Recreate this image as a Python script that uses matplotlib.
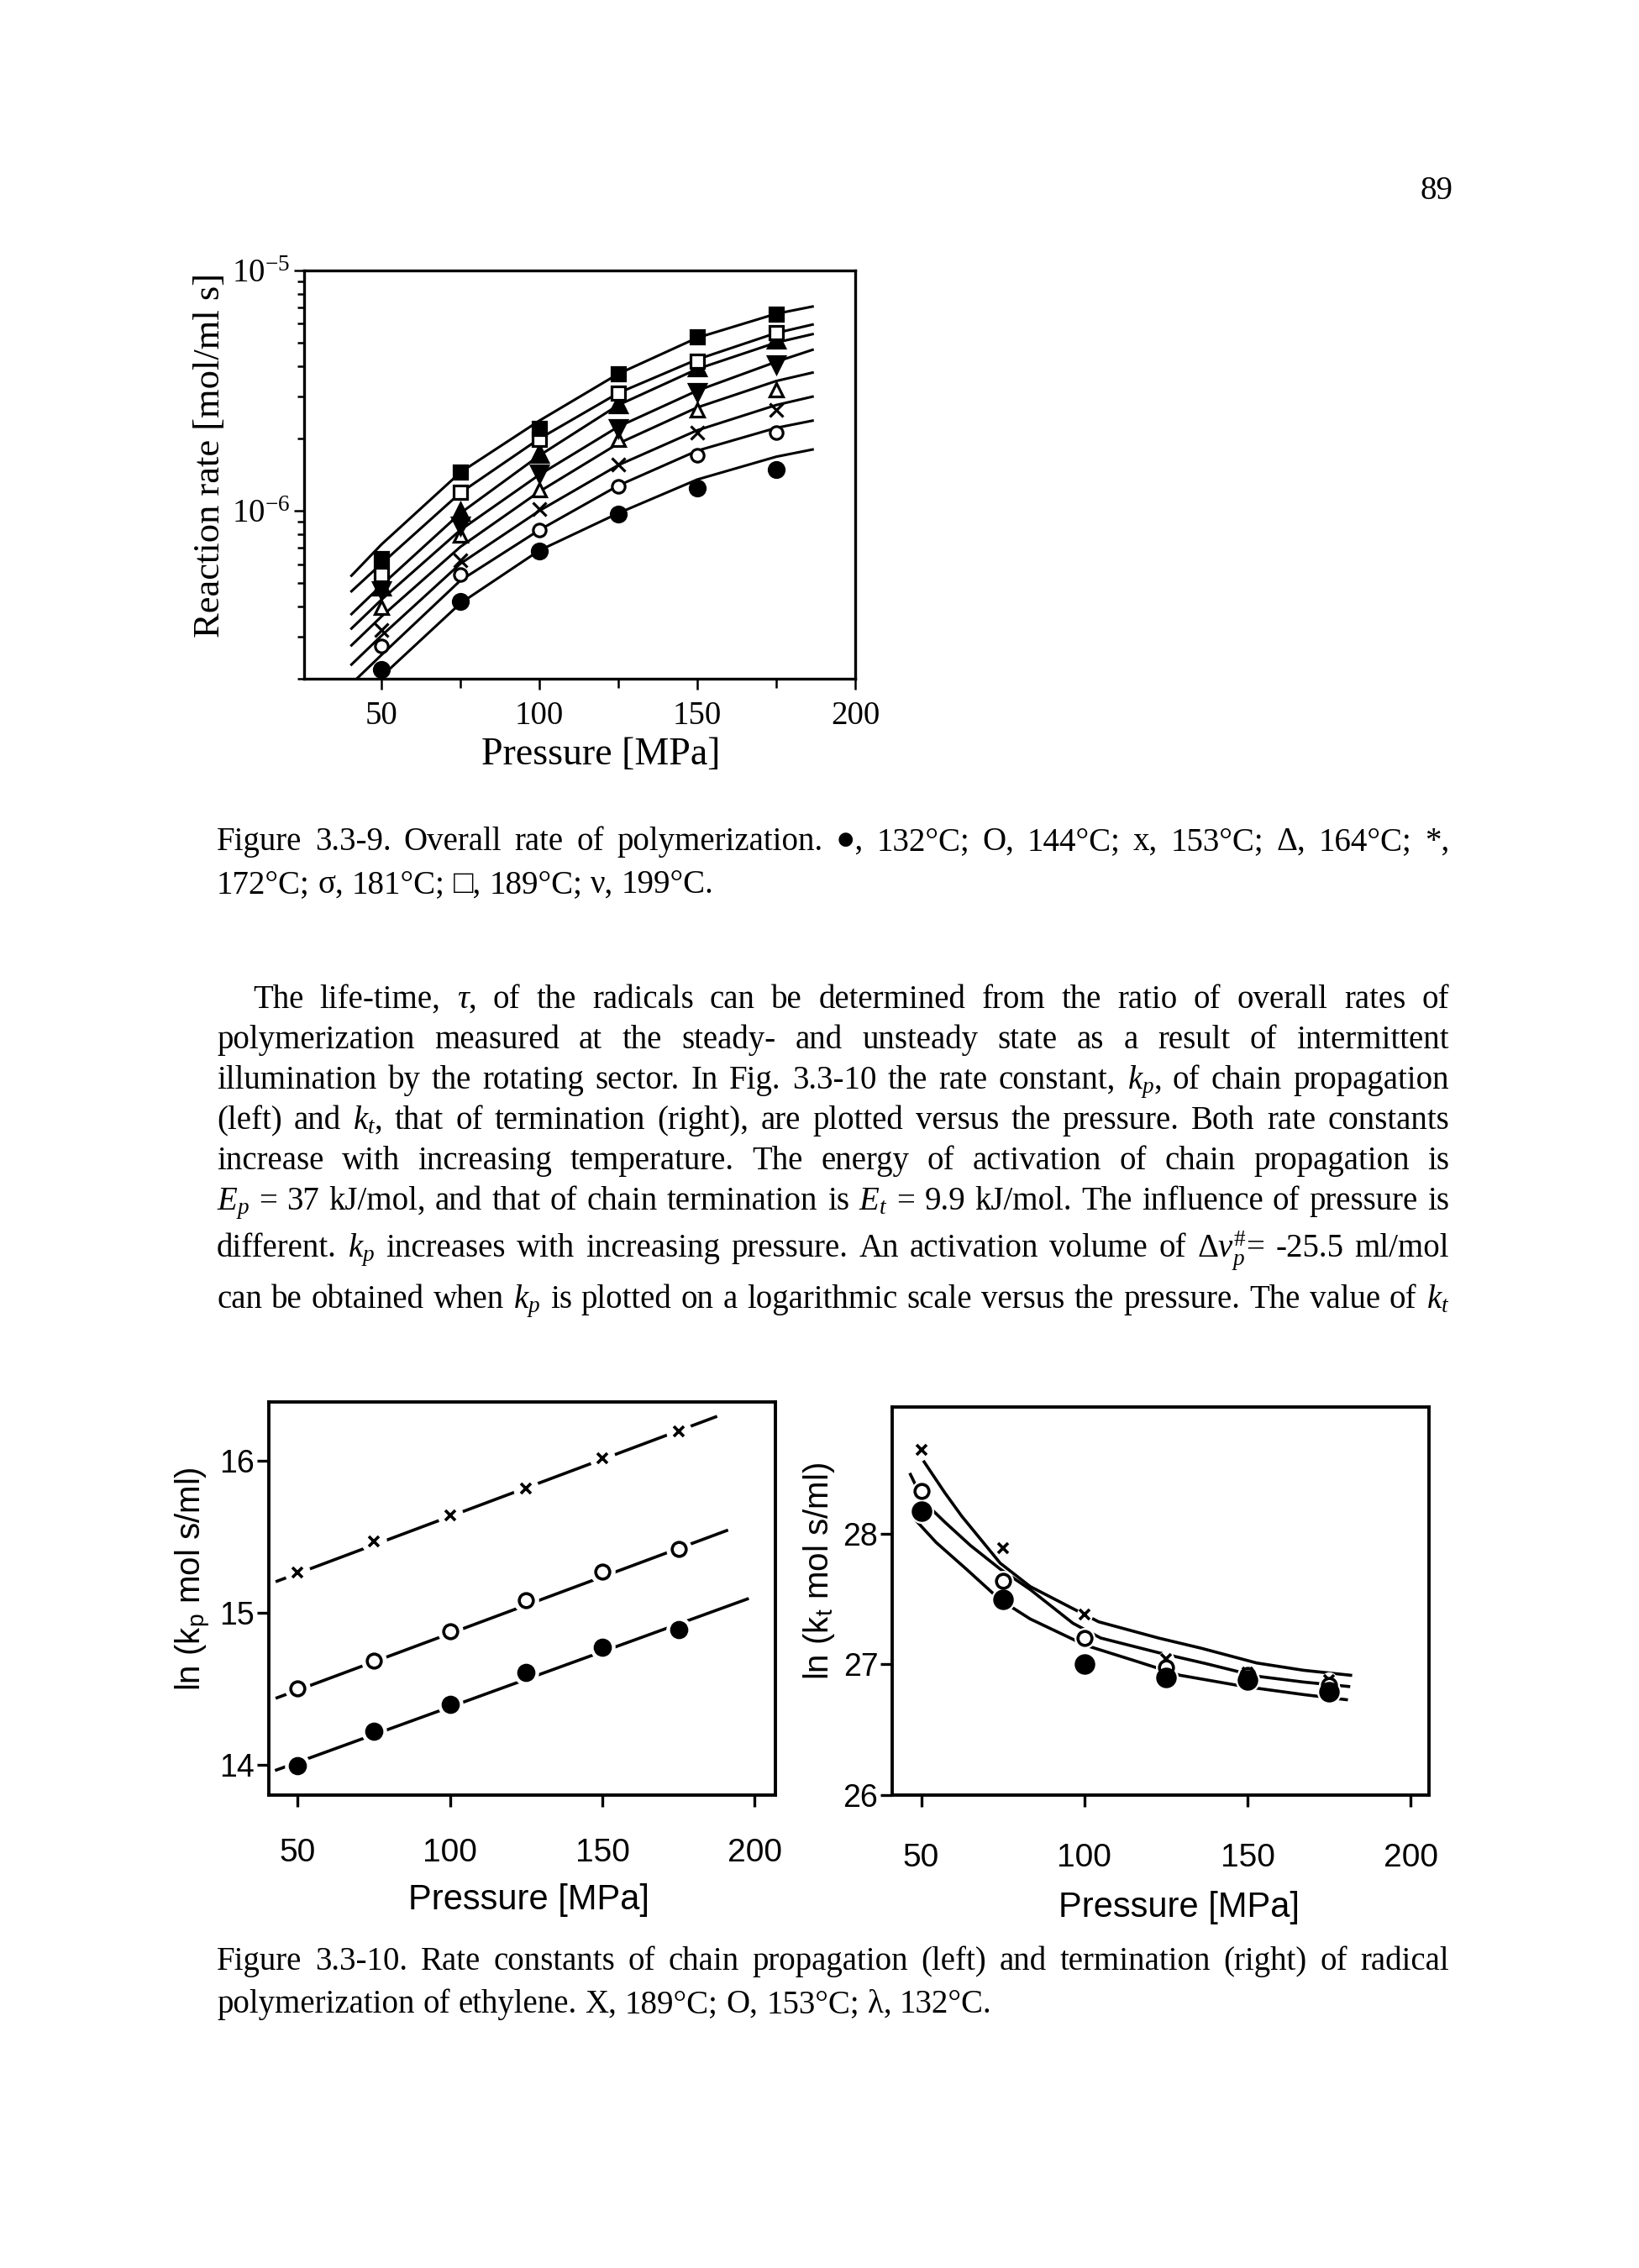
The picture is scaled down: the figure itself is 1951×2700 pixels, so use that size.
import numpy as np
import matplotlib
matplotlib.use("Agg")
import matplotlib.pyplot as plt
from matplotlib.ticker import FixedLocator, LogLocator, NullFormatter
from matplotlib.transforms import IdentityTransform

W, H = 1951, 2700
SERIF = ["Liberation Serif", "DejaVu Sans"]
SANS = ["Liberation Sans", "DejaVu Sans"]

plt.rcParams["mathtext.fontset"] = "custom"
plt.rcParams["mathtext.rm"] = "Liberation Serif"
plt.rcParams["mathtext.it"] = "Liberation Serif:italic"
plt.rcParams["mathtext.bf"] = "Liberation Serif:bold"
plt.rcParams["mathtext.sf"] = "Liberation Sans"

# ---- Fig 3.3-9: overall rate of polymerization [mol/ml s] ----
pressure = [50, 75, 100, 125, 150, 175]
rate_132 = [2.19e-7, 4.19e-7, 6.82e-7, 9.70e-7, 1.24e-6, 1.48e-6]
rate_144 = [2.74e-7, 5.41e-7, 8.30e-7, 1.26e-6, 1.70e-6, 2.11e-6]
rate_153 = [3.18e-7, 6.24e-7, 1.02e-6, 1.56e-6, 2.11e-6, 2.62e-6]
rate_164 = [3.98e-7, 7.94e-7, 1.22e-6, 1.99e-6, 2.62e-6, 3.18e-6]
rate_172 = [4.66e-7, 8.67e-7, 1.42e-6, 2.21e-6, 3.10e-6, 4.07e-6]
rate_181 = [4.83e-7, 9.93e-7, 1.73e-6, 2.79e-6, 3.95e-6, 5.15e-6]
rate_189 = [5.43e-7, 1.19e-6, 1.99e-6, 3.08e-6, 4.20e-6, 5.53e-6]
rate_199 = [6.31e-7, 1.45e-6, 2.21e-6, 3.73e-6, 5.28e-6, 6.58e-6]

# fitted curves, read as log10(rate)
fit_p = [40.5, 50, 75, 100, 125, 150, 175, 186.5]
fit_132 = [-6.80, -6.69, -6.385, -6.165, -6.01, -5.87, -5.775, -5.745]
fit_144 = [-6.72, -6.60, -6.29, -6.08, -5.895, -5.75, -5.655, -5.625]
fit_153 = [-6.64, -6.52, -6.22, -6.00, -5.81, -5.665, -5.56, -5.525]
fit_164 = [-6.56, -6.44, -6.15, -5.92, -5.72, -5.57, -5.46, -5.425]
fit_172 = [-6.49, -6.37, -6.08, -5.85, -5.65, -5.50, -5.38, -5.33]
fit_181 = [-6.43, -6.31, -6.01, -5.77, -5.56, -5.41, -5.30, -5.265]
fit_189 = [-6.335, -6.22, -5.925, -5.70, -5.51, -5.37, -5.26, -5.225]
fit_199 = [-6.27, -6.14, -5.84, -5.625, -5.43, -5.28, -5.18, -5.15]

# ---- Fig 3.3-10 left: ln kp ----
lnkp_189 = [15.265, 15.466, 15.641, 15.817, 16.016, 16.195]
lnkp_153 = [14.499, 14.685, 14.878, 15.082, 15.271, 15.419]
lnkp_132 = [13.994, 14.220, 14.399, 14.604, 14.773, 14.890]
kp_line_p_189 = [43.2, 187.2]
kp_line_189 = [15.207, 16.288]
kp_line_p_153 = [43.2, 190.8]
kp_line_153 = [14.44, 15.54]
kp_line_p_132 = [43.0, 197.6]
kp_line_132 = [13.965, 15.09]

# ---- Fig 3.3-10 right: ln kt ----
lnkt_189 = [28.64, 27.89, 27.38, 27.04, 26.94, 26.88]
lnkt_153 = [28.33, 27.64, 27.20, 26.98, 26.92, 26.84]
lnkt_132 = [28.17, 27.50, 27.00, 26.90, 26.88, 26.79]
kt_curve_p_189 = [50.9, 57.2, 62.4, 74.2, 83.4, 96.5, 104.4, 122.7, 135.8, 152.8, 167.2, 181.6]
kt_curve_189 = [28.55, 28.315, 28.135, 27.775, 27.596, 27.427, 27.326, 27.202, 27.124, 27.011, 26.955, 26.917]
kt_curve_p_153 = [46.7, 50.7, 57.2, 65.1, 74.2, 83.4, 96.5, 105.0, 122.7, 137.1, 152.8, 167.2, 181.0]
kt_curve_153 = [28.454, 28.247, 28.09, 27.91, 27.73, 27.573, 27.315, 27.202, 27.09, 27.007, 26.91, 26.865, 26.831]
kt_curve_p_132 = [48.0, 54.6, 63.8, 74.2, 83.4, 100.4, 116.2, 129.3, 149.0, 167.2, 180.3]
kt_curve_132 = [28.112, 27.933, 27.73, 27.494, 27.348, 27.146, 27.022, 26.917, 26.831, 26.769, 26.73]

fig = plt.figure(figsize=(W / 100, H / 100), dpi=100)
renderer = fig.canvas.get_renderer()


def rect(l, t, r, b):
    return [l / W, 1 - b / H, (r - l) / W, (b - t) / H]


def frame(ax, lw):
    for s in ax.spines.values():
        s.set_linewidth(lw)
    ax.tick_params(which="both", direction="out", top=False, right=False, width=1.8)


# ---------------- top chart ----------------
ax1 = fig.add_axes(rect(362, 322, 1018, 808))
ax1.set_yscale("log")
for f in [fit_132, fit_144, fit_153, fit_164, fit_172, fit_181, fit_189, fit_199]:
    ax1.plot(fit_p, 10 ** np.array(f), "k-", lw=2.2)
styles = [
    (rate_132, "o", "k", 13),
    (rate_144, "o", "w", 11),
    (rate_153, "x", "k", 12),
    (rate_164, "^", "w", 12),
    (rate_172, "v", "k", 14),
    (rate_181, "^", "k", 14),
    (rate_189, "s", "w", 11),
    (rate_199, "s", "k", 12),
]
for vals, m, fc, ms in styles:
    ax1.plot(pressure, vals, ls="none", marker=m, mfc=fc, mec="k", mew=2.3, ms=ms, zorder=3)
ax1.set_xlim(25.5, 200)
ax1.set_ylim(2.0e-7, 1e-5)
ax1.xaxis.set_major_locator(FixedLocator([50, 100, 150, 200]))
ax1.xaxis.set_minor_locator(FixedLocator([75, 125, 175]))
ax1.set_yticks([1e-6, 1e-5])
ax1.set_yticklabels([r"$\mathregular{10^{-6}}$", r"$\mathregular{10^{-5}}$"])
ax1.yaxis.set_minor_locator(LogLocator(base=10, subs=np.arange(2, 10)))
ax1.yaxis.set_minor_formatter(NullFormatter())
frame(ax1, 2.4)
ax1.tick_params(which="major", length=9, labelsize=28, pad=3)
ax1.tick_params(which="minor", length=6)
ax1.tick_params(axis="x", which="minor", length=8)
ax1.tick_params(axis="x", which="major", pad=10)
for lab in ax1.get_xticklabels() + ax1.get_yticklabels():
    lab.set_family(SERIF)
fig.text(715 / W, 1 - 899 / H, "Pressure [MPa]", family=SERIF, fontsize=33, ha="center", va="center")
fig.text(250 / W, 1 - 542 / H, "Reaction rate [mol/ml s]", family=SERIF, fontsize=32,
         rotation=90, ha="center", va="center")

# ---------------- bottom left ----------------
ax2 = fig.add_axes(rect(320, 1669, 923, 2137))
kp_sets = [
    (kp_line_p_189, kp_line_189, lnkp_189, "x", "k", 8),
    (kp_line_p_153, kp_line_153, lnkp_153, "o", "w", 12),
    (kp_line_p_132, kp_line_132, lnkp_132, "o", "k", 13),
]
for lp, lv, vals, m, fc, ms in kp_sets:
    ax2.plot(lp, lv, "k-", lw=2.6, zorder=1)
    ax2.plot(pressure, vals, ls="none", marker="o", ms=21, mfc="w", mec="w", zorder=2)
    ax2.plot(pressure, vals, ls="none", marker=m, mfc=fc, mec="k", mew=2.6, ms=ms, zorder=3)
ax2.set_xlim(40.5, 206.8)
ax2.set_ylim(13.80, 16.386)
ax2.set_xticks([50, 100, 150, 200])
ax2.set_yticks([14, 15, 16])
frame(ax2, 2.8)
ax2.tick_params(length=10, width=2.4, labelsize=28)
ax2.tick_params(axis="y", pad=2, labelsize=27)
ax2.tick_params(axis="x", pad=27)
for lab in ax2.get_xticklabels() + ax2.get_yticklabels():
    lab.set_family(SANS)
fig.text(629 / W, 1 - 2262 / H, "Pressure [MPa]", family=SANS, fontsize=30, ha="center", va="center")
fig.text(230 / W, 1 - 1880 / H, r"ln (k$_\mathsf{p}$ mol s/ml)", family=SANS, fontsize=29,
         rotation=90, ha="center", va="center")

# ---------------- bottom right ----------------
ax3 = fig.add_axes(rect(1062, 1675, 1701, 2137))
kt_sets = [
    (kt_curve_p_189, kt_curve_189, lnkt_189, "x", "k", 8),
    (kt_curve_p_153, kt_curve_153, lnkt_153, "o", "w", 12),
    (kt_curve_p_132, kt_curve_132, lnkt_132, "o", "k", 15),
]
for lp, lv, vals, m, fc, ms in kt_sets:
    ax3.plot(lp, lv, "k-", lw=2.6, zorder=1)
for lp, lv, vals, m, fc, ms in kt_sets:
    ax3.plot(pressure, vals, ls="none", marker="o", ms=ms + 5, mfc="w", mec="w", zorder=2)
for lp, lv, vals, m, fc, ms in kt_sets:
    ax3.plot(pressure, vals, ls="none", marker=m, mfc=fc, mec="k", mew=2.6, ms=ms, zorder=3)
ax3.set_xlim(41.1, 205.6)
ax3.set_ylim(26, 28.97)
ax3.set_xticks([50, 100, 150, 200])
ax3.set_yticks([26, 27, 28])
frame(ax3, 2.8)
ax3.tick_params(length=10, width=2.4, labelsize=28)
ax3.tick_params(axis="y", pad=2, labelsize=27)
ax3.tick_params(axis="x", pad=31)
for lab in ax3.get_xticklabels() + ax3.get_yticklabels():
    lab.set_family(SANS)
fig.text(1403 / W, 1 - 2271 / H, "Pressure [MPa]", family=SANS, fontsize=30, ha="center", va="center")
fig.text(975 / W, 1 - 1870 / H, r"ln (k$_\mathsf{t}$ mol s/ml)", family=SANS, fontsize=29,
         rotation=90, ha="center", va="center")


# ---------------- page text ----------------
def text_line(y, line, x0=258, x1=1725, justify=True, size=28):
    words = line.split(" ")
    objs = [fig.text(0, 0, w, transform=IdentityTransform(), fontsize=size, family=SERIF,
                     ha="left", va="baseline") for w in words]
    widths = [o.get_window_extent(renderer).width for o in objs]
    if justify and len(objs) > 1:
        gap = (x1 - x0 - sum(widths)) / (len(objs) - 1)
    else:
        gap = size * 100 / 72 * 0.25
    x = x0
    for o, w in zip(objs, widths):
        o.set_position((x, H - y))
        x += w + gap


fig.text(1710, H - 237, "89", transform=IdentityTransform(), fontsize=28, family=SERIF, ha="center")

text_line(1012, "Figure 3.3-9. Overall rate of polymerization. \u25cf, 132\u00b0C; O, 144\u00b0C; x, 153\u00b0C; \u0394, 164\u00b0C; *,")
text_line(1063, "172\u00b0C; \u03c3, 181\u00b0C; \u25a1, 189\u00b0C; \u03bd, 199\u00b0C.", justify=False)

paragraph = [
    (1200, r"The life-time, $\tau$, of the radicals can be determined from the ratio of overall rates of", 301),
    (1248, "polymerization measured at the steady- and unsteady state as a result of intermittent", 258),
    (1296, r"illumination by the rotating sector. In Fig. 3.3-10 the rate constant, $k_p$, of chain propagation", 258),
    (1344, r"(left) and $k_t$, that of termination (right), are plotted versus the pressure. Both rate constants", 258),
    (1392, "increase with increasing temperature. The energy of activation of chain propagation is", 258),
    (1440, r"$E_p$ = 37 kJ/mol, and that of chain termination is $E_t$ = 9.9 kJ/mol. The influence of pressure is", 258),
    (1496, r"different. $k_p$ increases with increasing pressure. An activation volume of $\Delta{v}_p^{\#}$= -25.5 ml/mol", 258),
    (1557, r"can be obtained when $k_p$ is plotted on a logarithmic scale versus the pressure. The value of $k_t$", 258),
]
for y, line, x0 in paragraph:
    text_line(y, line, x0=x0)

text_line(2345, "Figure 3.3-10. Rate constants of chain propagation (left) and termination (right) of radical")
text_line(2396, "polymerization of ethylene. X, 189\u00b0C; O, 153\u00b0C; \u03bb, 132\u00b0C.", justify=False)

fig.savefig("out.png", dpi=100)
